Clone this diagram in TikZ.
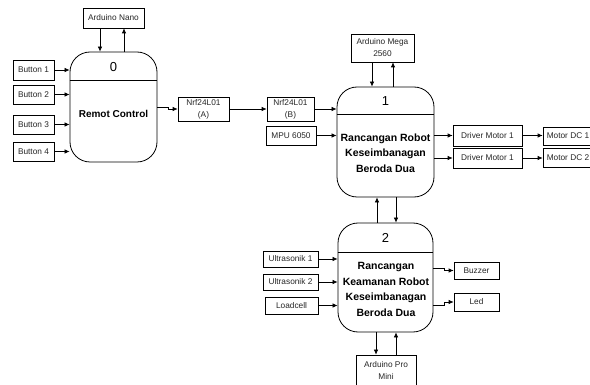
\documentclass[tikz,border=0pt]{standalone}
\usepackage{fontspec}
\setmainfont{Liberation Sans}
\usetikzlibrary{arrows.meta}
\begin{document}
\begin{tikzpicture}[x=1pt,y=-1pt,
  box/.style={draw=black, line width=0.7pt, inner sep=1pt, align=center, text=black!85,
    font=\fontsize{8.3}{12}\selectfont},
  proc/.style={draw=black, line width=0.8pt, rounded corners=20pt},
  ptitle/.style={font=\fontsize{13}{13}\selectfont, inner sep=0pt},
  ptext/.style={font=\bfseries\fontsize{10.5}{15.4}\selectfont, align=center, inner sep=0pt},
  arr/.style={line width=0.7pt, -{Latex[length=5pt,width=4.5pt]}},
  ln/.style={line width=0.7pt}]
\useasboundingbox (0,0) rectangle (590,385);
\fill[white] (0,0) rectangle (590,385);
% process nodes
\node[proc, minimum width=87pt, minimum height=110pt] (p0) at (113.5,107) {};
\node[proc, minimum width=97pt, minimum height=110pt] (p1) at (385.5,142) {};
\node[proc, minimum width=95pt, minimum height=109pt] (p2) at (385.5,277.5) {};
\draw[ln] (p0.west |- 0,80) -- (p0.east |- 0,80);
\draw[ln] (p1.west |- 0,114.5) -- (p1.east |- 0,114.5);
\draw[ln] (p2.west |- 0,252) -- (p2.east |- 0,252);
\node[ptitle] (t0) at (113.5,67) {0};
\node[ptitle] (t1) at (385.5,101.5) {1};
\node[ptitle] (t2) at (385.5,237.5) {2};
\node[ptext, font=\bfseries\fontsize{10}{15}\selectfont] (r0) at (113.5,113.5) {Remot Control};
\node[ptext] (r1) at (385.5,153) {Rancangan Robot\\Keseimbanagan\\Beroda Dua};
\node[ptext] (r2) at (386,289.5) {Rancangan\\Keamanan Robot\\Keseimbanagan\\Beroda Dua};
% boxes
\node[box, minimum width=61pt, minimum height=20pt] (nano) at (113.5,18) {Arduino Nano};
\node[box, minimum width=41pt, minimum height=20pt] (b1) at (33.5,70) {Button 1};
\node[box, minimum width=41pt, minimum height=19pt] (b2) at (33.5,94.5) {Button 2};
\node[box, minimum width=41pt, minimum height=19pt] (b3) at (33.5,124.5) {Button 3};
\node[box, minimum width=41pt, minimum height=19pt] (b4) at (33.5,151.5) {Button 4};
\node[box, minimum width=51pt, minimum height=24pt] (nrfa) at (203.5,109) {Nrf24L01\\(A)};
\node[box, minimum width=47pt, minimum height=24pt] (nrfb) at (290.5,109) {Nrf24L01\\(B)};
\node[box, minimum width=50pt, minimum height=19pt] (mpu) at (291,135.5) {MPU 6050};
\node[box, minimum width=63pt, minimum height=28pt] (mega) at (382.5,48) {Arduino Mega\\2560};
\node[box, minimum width=69pt, minimum height=21pt] (d1) at (487.5,135.5) {Driver Motor 1};
\node[box, minimum width=69pt, minimum height=20pt] (d2) at (487.5,158) {Driver Motor 1};
\node[box, minimum width=50pt, minimum height=18pt] (m1) at (568,136) {Motor DC 1};
\node[box, minimum width=50pt, minimum height=19pt] (m2) at (568,157.5) {Motor DC 2};
\node[box, minimum width=55pt, minimum height=16pt] (u1) at (290.5,259) {Ultrasonik 1};
\node[box, minimum width=55pt, minimum height=16pt] (u2) at (290.5,282) {Ultrasonik 2};
\node[box, minimum width=53pt, minimum height=17pt] (lc) at (291.5,305.5) {Loadcell};
\node[box, minimum width=45pt, minimum height=17pt] (bz) at (476.5,270.5) {Buzzer};
\node[box, minimum width=45pt, minimum height=18pt] (led) at (476.5,302) {Led};
\node[box, minimum width=60pt, minimum height=30pt] (pm) at (386,370) {Arduino Pro\\Mini};
% connectors
\draw[arr] (nano.south -| 100,0) -- (p0.north -| 100,0);
\draw[arr] (p0.north -| 124,0) -- (nano.south -| 124,0);
\draw[arr] (b1) -- (b1 -| p0.west);
\draw[arr] (b2) -- (b2 -| p0.west);
\draw[arr] (b3) -- (b3 -| p0.west);
\draw[arr] (b4) -- (b4 -| p0.west);
\draw[arr] (p0.east) -- ++(11,0) |- (nrfa.west);
\draw[arr] (nrfa) -- (nrfb);
\draw[arr] (nrfb) -- (nrfb -| p1.west);
\draw[arr] (mpu) -- (mpu -| p1.west);
\draw[arr] (mega.south -| 372,0) -- (p1.north -| 372,0);
\draw[arr] (p1.north -| 393,0) -- (mega.south -| 393,0);
\draw[arr] (d1 -| p1.east) -- (d1);
\draw[arr] (d2 -| p1.east) -- (d2);
\draw[arr] (d1) -- (d1 -| m1.west);
\draw[arr] (d2) -- (d2 -| m2.west);
\draw[arr] (p2.north -| 377,0) -- (p1.south -| 377,0);
\draw[arr] (p1.south -| 396,0) -- (p2.north -| 396,0);
\draw[arr] (u1) -- (u1 -| p2.west);
\draw[arr] (u2) -- (u2 -| p2.west);
\draw[arr] (lc) -- (lc -| p2.west);
\draw[arr] (p2.east |- 0,268.5) -- ++(11,0) |- (bz.west);
\draw[arr] (p2.east |- 0,305) -- ++(11,0) |- (led.west);
\draw[arr] (p2.south -| 376,0) -- (pm.north -| 376,0);
\draw[arr] (pm.north -| 396,0) -- (p2.south -| 396,0);
\end{tikzpicture}
\end{document}
